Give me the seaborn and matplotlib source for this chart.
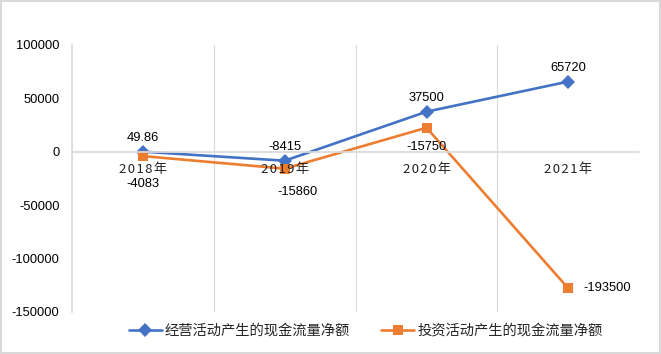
import matplotlib
matplotlib.use("Agg")
import matplotlib.pyplot as plt
import seaborn as sns
import pandas as pd

# chart data
years = ["2018年", "2019年", "2020年", "2021年"]
operating = [49.86, -8415, 37500, 65720]
investing = [-4083, -15860, 22500, -128000]          # where the points sit in the picture
operating_labels = ["49.86", "-8415", "37500", "65720"]
investing_labels = ["-4083", "-15860", "-15750", "-193500"]
series_names = ["经营活动产生的现金流量净额", "投资活动产生的现金流量净额"]
yticks = [100000, 50000, 0, -50000, -100000, -150000]

sns.set_theme(style="white")
plt.rcParams["font.family"] = ["Noto Sans CJK SC", "DejaVu Sans"]

df = pd.DataFrame({
    "year": years * 2,
    "value": operating + investing,
    "series": [series_names[0]] * 4 + [series_names[1]] * 4,
})

fig = plt.figure(figsize=(6.61, 3.54), dpi=100)
fig.patch.set_edgecolor("#d9d9d9")
fig.patch.set_linewidth(1.5)
ax = fig.add_axes([0.109, 0.119, 0.858, 0.754])

palette = {series_names[0]: "#4472C4", series_names[1]: "#ED7D31"}
sns.lineplot(data=df, x="year", y="value", hue="series", style="series",
             markers={series_names[0]: "D", series_names[1]: "s"}, dashes=False,
             palette=palette, linewidth=1.9, markersize=7, markeredgewidth=0,
             sort=False, ax=ax)

num_font = ["Liberation Sans", "DejaVu Sans"]

ax.set_xlim(-0.5, 3.5)
ax.set_ylim(-150000, 100000)
ax.set_yticks(yticks)
ax.set_yticklabels([str(t) for t in yticks], fontsize=9.3, family=num_font, color="black")
ax.set_xticks(range(len(years)))
ax.set_xticklabels([])
ax.set_xticks([0.5, 1.5, 2.5, 3.5], minor=True)
ax.grid(which="minor", axis="x", color="#d9d9d9", linewidth=0.8)
ax.tick_params(axis="both", which="both", length=0)
ax.tick_params(axis="y", pad=9)
ax.set_xlabel("")
ax.set_ylabel("")

for side in ["top", "right"]:
    ax.spines[side].set_visible(False)
ax.spines["left"].set_color("#d9d9d9")
ax.spines["bottom"].set_color("#d9d9d9")
ax.spines["bottom"].set_position(("data", 0))

# category labels sit on the zero line, drawn over the lines like Excel does
for i, y in enumerate(years):
    ax.annotate("\u200a".join(y), (i, 0), xytext=(0, -12.5), textcoords="offset points",
                ha="center", va="center", fontsize=9.5, color="#222222", zorder=5,
                family=["Noto Sans CJK SC", "DejaVu Sans"])

# data labels
for i, (v, t) in enumerate(zip(operating, operating_labels)):
    ax.annotate(t, (i, v), xytext=(0, 10), textcoords="offset points",
                ha="center", va="center", fontsize=9.3, family=num_font, color="black",
                zorder=5)
inv_offsets = [(0, -20), (9, -17), (0, -14), (11, 0)]
for i, (v, t) in enumerate(zip(investing, investing_labels)):
    dx, dy = inv_offsets[i]
    ax.annotate(t, (i, v), xytext=(dx, dy), textcoords="offset points",
                ha="left" if dy == 0 else "center", va="center",
                fontsize=9.3, family=num_font, color="black", zorder=5)

ax.legend(loc="center left", bbox_to_anchor=(0.195, 0.066), bbox_transform=fig.transFigure,
          ncol=2, frameon=False, fontsize=10.3, handlelength=2.3, columnspacing=2.2,
          handletextpad=0.2, borderaxespad=0, borderpad=0)

fig.savefig("out.png", dpi=100)
